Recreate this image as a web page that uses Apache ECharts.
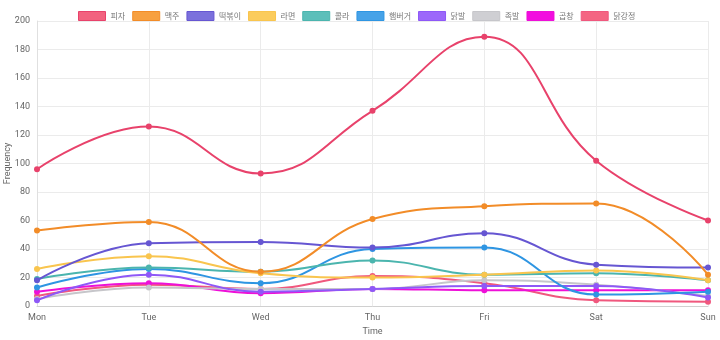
<!DOCTYPE html>
<html><head><meta charset="utf-8">
<script src="https://cdn.jsdelivr.net/npm/echarts@6/dist/echarts.min.js"></script>
<style>html,body{margin:0;padding:0;background:#fff}#c{width:720px;height:340px}</style>
</head><body><div id="c"></div>
<script>
const categories = ['Mon','Tue','Wed','Thu','Fri','Sat','Sun'];
const names = ['피자','맥주','떡볶이','라면','콜라','햄버거','닭발','족발','곱창','닭강정'];
const pizza    = [96,126,93,137,189,102,60];
const beer     = [53,59,24,61,70,72,22];
const tteok    = [18,44,45,41,51,29,27];
const ramen    = [26,35,23,20,22,25,18];
const cola     = [19,27,24,32,22,23,18];
const burger   = [13,26,16,40,41,8,10];
const chicken  = [4,22,10,12,14,14,6];
const jokbal   = [5,13,12,12,18,15,7];
const gopchang = [10,16,9,12,11,11,11];
const gangjeong= [7,15,12,21,16,4,3];
const values = [pizza,beer,tteok,ramen,cola,burger,chicken,jokbal,gopchang,gangjeong];
const colors = ['#e8426b','#f28c28','#6656d2','#f9c54e','#4bb5ae','#2e95e2','#8e58f7','#c6c6ca','#ee10d8','#f0587e'];
const legendFill = ['#f2627f','#f7a040','#7b70dc','#fbcc5c','#5cbfba','#46a2e8','#9c68fa','#cfcfd3','#f20ddf','#f46582'];

const chart = echarts.init(document.getElementById('c'));
chart.setOption({
  animation:false,
  textStyle:{fontFamily:'Roboto, "Noto Sans CJK KR", sans-serif'},
  legend:{
    top:6, left:73, itemWidth:27, itemHeight:9, itemGap:7, itemTextGap:5,
    textStyle:{fontSize:8,color:'#777', fontFamily:'"Noto Sans CJK KR", sans-serif'},
    icon:'rect',
    data:names.map((n,i)=>({name:n,itemStyle:{color:legendFill[i],borderColor:colors[i],borderWidth:1}}))
  },
  grid:{left:37,right:12,top:21,bottom:34,containLabel:false,outerBoundsMode:'none'},
  xAxis:{
    type:'category', data:categories, boundaryGap:false,
    name:'Time', nameLocation:'middle', nameGap:21, nameMoveOverlap:false,
    nameTextStyle:{fontSize:9,color:'#666'},
    axisLine:{lineStyle:{color:'#d0d0d0'}},
    axisTick:{show:false},
    axisLabel:{fontSize:9,color:'#666',margin:7},
    splitLine:{show:true,lineStyle:{color:'#ebebeb'}}
  },
  yAxis:{
    type:'value', min:0, max:200, interval:20,
    name:'Frequency', nameLocation:'middle', nameGap:25, nameRotate:90, nameMoveOverlap:false,
    nameTextStyle:{fontSize:9,color:'#666'},
    axisLine:{show:true,lineStyle:{color:'#e0e0e0'}},
    axisTick:{show:false},
    axisLabel:{fontSize:9,color:'#666',margin:7},
    splitLine:{lineStyle:{color:'#ebebeb'}}
  },
  series:names.map((n,i)=>({
    name:n, type:'line', data:values[i], smooth:0.45,
    symbol:'circle', symbolSize:6,
    lineStyle:{width:2,color:colors[i]},
    itemStyle:{color:colors[i]},
    z:10-i
  }))
});
</script></body></html>
